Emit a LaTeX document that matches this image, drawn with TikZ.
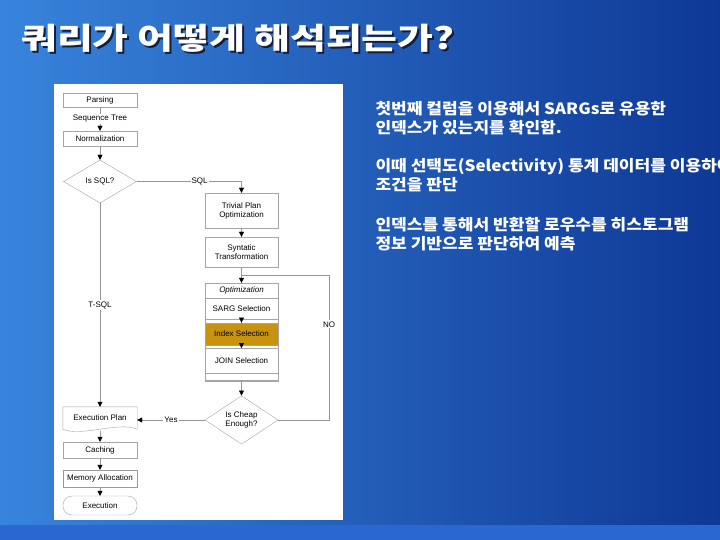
\documentclass[tikz,border=0pt]{standalone}
\usepackage{fontspec}
\setmainfont{Liberation Sans}
\newfontfamily\kor{Noto Sans CJK KR}[FakeStretch=1.1]
\newfontfamily\korwide{Noto Sans CJK KR}[FakeStretch=1.3]
\usetikzlibrary{
	shapes.geometric,
	arrows.meta,
	positioning,
	calc
}

\definecolor{bgLight}{RGB}{56,132,220}
\definecolor{bgDark}{RGB}{14,56,150}
\definecolor{bgBottom}{RGB}{42,104,208}
\definecolor{lineGray}{RGB}{150,150,150}
\definecolor{boxGray}{RGB}{165,165,165}
\definecolor{indexGold}{RGB}{200,148,16}
\definecolor{shadowNavy}{RGB}{20,30,60}

\newcommand{\titletext}{쿼리가 어떻게 해석되는가?}

\begin{document}
\begin{tikzpicture}[
				x=1pt, y=-1pt,
				stage/.style={
					rectangle, draw=boxGray, fill=white,
					minimum width=74pt, minimum height=15pt, inner sep=1pt,
					align=center, font=\fontsize{8}{9}\selectfont
				},
				decision/.style={
					diamond, draw=boxGray, fill=white,
					minimum width=73pt, minimum height=44pt, inner sep=0pt,
					align=center, font=\fontsize{8}{9}\selectfont
				},
				lbl/.style={
					fill=white, inner sep=1pt, font=\fontsize{8}{9}\selectfont
				},
				headline/.style={
					anchor=west, inner sep=0pt, font=\korwide\bfseries\fontsize{30}{34}\selectfont
				},
				bullet/.style={
					anchor=west, align=left, text=white,
					font=\kor\bfseries\fontsize{15.5}{19.5}\selectfont
				},
				arrow/.style={draw=lineGray, -{Triangle[black, width=5pt, length=5pt]}},
				link/.style={draw=lineGray}
				]
				\useasboundingbox (0,0) rectangle (720,540);
				
				% background and white panel
				\shade[left color=bgLight, right color=bgDark] (0,0) rectangle (720,540);
				\fill[bgBottom] (0,525) rectangle (720,540);
				\fill[white] (54,84) rectangle (343,520);
				
				% title (with drop shadow)
				\node[headline] (title) at (21,39) {\rlap{\raisebox{-2pt}{\hspace{2pt}\textcolor{shadowNavy}{\titletext}}}\textcolor{white}{\titletext}};
				
				% notes
				\node[bullet] (noteA) at (372,118) {첫번째 컬럼을 이용해서 SARGs로 유용한\\인덱스가 있는지를 확인함.};
				\node[bullet] (noteB) at (372,175) {이때 선택도(Selectivity) 통계 데이터를 이용하여\\조건을 판단};
				\node[bullet] (noteC) at (372,234) {인덱스를 통해서 반환할 로우수를 히스토그램\\정보 기반으로 판단하여 예측};
				
				% Parsing
				\node[stage, minimum height=14pt] (parse) at (100,100) {Parsing};
				
				% Sequence Tree
				\node[font=\fontsize{8}{9}\selectfont, inner sep=1pt] (seqtree) at (100,119) {Sequence Tree};
				
				% Normalization
				\node[stage] (norm) at (100,138.5) {Normalization};
				
				% Is SQL?
				\node[decision, minimum height=43pt] (issql) at (100,181.5) {Is SQL?};
				
				% Trivial Plan
				\node[stage, minimum width=73pt, minimum height=35pt] (trivial) at (241.5,210.5) {Trivial Plan\\Optimization};
				
				% Syntatic
				\node[stage, minimum width=73pt, minimum height=30pt] (syntatic) at (241.5,252) {Syntatic\\Transformation};
				
				% Optimization group
				\node[stage, minimum width=73pt, minimum height=15pt, font=\fontsize{8}{9}\selectfont\itshape] (opt) at (241.5,290.5) {Optimization};
				\node[stage, minimum width=73pt, minimum height=21pt, below=0pt of opt] (sarg) {SARG Selection};
				\node[stage, minimum width=73pt, minimum height=22pt, fill=indexGold, below=3pt of sarg] (index) {Index Selection};
				\node[stage, minimum width=73pt, minimum height=25pt, below=3pt of index] (join) {JOIN Selection};
				\node[stage, minimum width=73pt, minimum height=7pt, below=0pt of join] (optend) {};
				\draw[boxGray] (opt.north west) rectangle (optend.south east);
				
				% Is Cheap Enough?
				\node[decision] (cheap) at (241.5,420) {Is Cheap\\Enough?};
				
				% Execution Plan (document shape)
				\node[minimum width=74pt, minimum height=22pt, inner sep=1pt, font=\fontsize{8}{9}\selectfont] (plan) at (100,418) {Execution Plan};
				\draw[boxGray] (plan.north west) -- (plan.north east) -- (plan.south east)
					.. controls ($(plan.south)+(20,-8)$) and ($(plan.south)+(-20,8)$) .. (plan.south west) -- cycle;
				
				% Caching
				\node[stage, minimum height=16pt] (cache) at (100,450) {Caching};
				
				% Memory Allocation
				\node[stage, minimum height=17pt, draw=gray!80] (memory) at (100,478.5) {Memory Allocation};
				
				% Execution
				\node[stage, minimum height=19pt, rounded corners=9pt] (exec) at (100,505.5) {Execution};
				
				\coordinate (merge) at (241.5,275);
				\coordinate (loopTurn) at (329,275);
				
				% proper arrows between nodes
				\draw[link] (parse) -- (seqtree);
				\draw[arrow] (seqtree) -- (norm);
				\draw[arrow] (norm) -- (issql);
				\draw[arrow] (issql.east) -| node[lbl, pos=0.3] {SQL} (trivial.north);
				\draw[arrow] (trivial) -- (syntatic);
				\draw[arrow] (syntatic) -- (opt);
				\draw[arrow, shorten <=-4pt] (sarg) -- (index);
				\draw[arrow, shorten <=-4pt] (index) -- (join);
				\draw[arrow] (optend) -- (cheap);
				\draw[link] (cheap.east) -| node[lbl, pos=0.83] {NO} (loopTurn) -- (merge);
				\draw[arrow] (cheap.west) -- node[lbl] {Yes} (cheap.west -| plan.east);
				\draw[arrow] (issql.south) -- node[lbl] {T-SQL} (plan.north);
				\draw[arrow] (plan.south |- 0,431) -- (cache);
				\draw[arrow] (cache) -- (memory);
				\draw[arrow] (memory) -- (exec);
			\end{tikzpicture}
\end{document}
